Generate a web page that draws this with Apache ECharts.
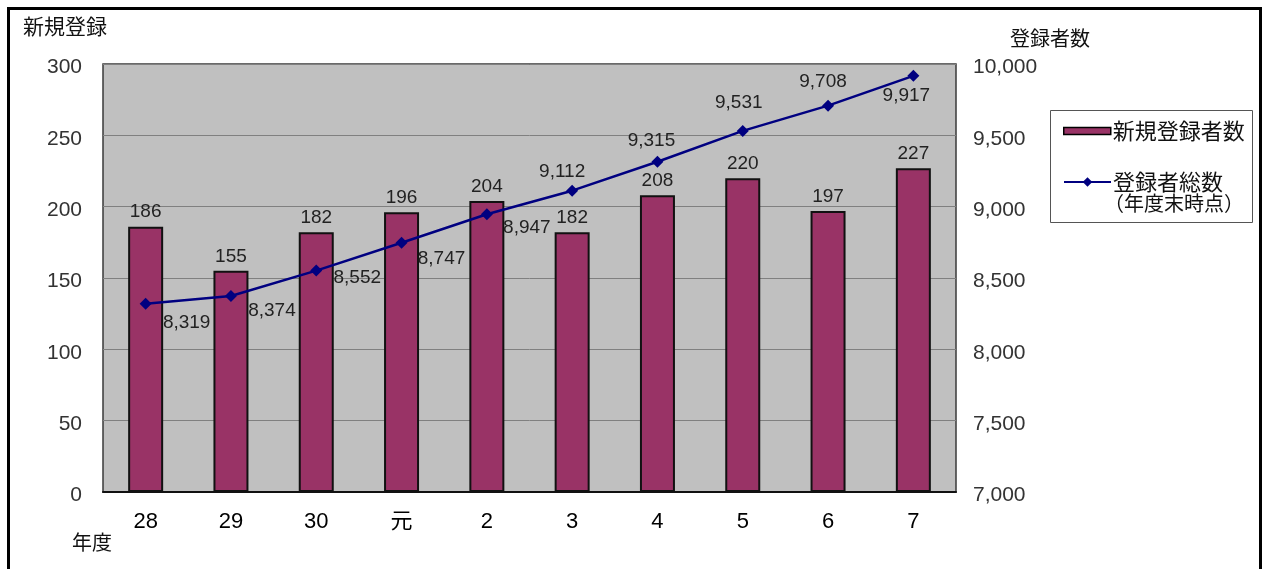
<!DOCTYPE html>
<html>
<head>
<meta charset="utf-8">
<style>
  html, body { margin: 0; padding: 0; background: #ffffff; }
  #chart { width: 1269px; height: 569px; }
</style>
<script src="https://cdn.jsdelivr.net/npm/echarts@6/dist/echarts.min.js"></script>
</head>
<body>
<div id="chart"></div>
<script>
// 年度 (fiscal years)
const years = ['28', '29', '30', '元', '2', '3', '4', '5', '6', '7'];
// 新規登録者数 (new registrations per year)
const newRegistrations = [186, 155, 182, 196, 204, 182, 208, 220, 197, 227];
// 登録者総数 (total registered at fiscal year end)
const totalRegistered = [8319, 8374, 8552, 8747, 8947, 9112, 9315, 9531, 9708, 9917];
// left / right axis ranges
const leftAxis = { min: 0, max: 300, step: 50 };
const rightAxis = { min: 7000, max: 10000, step: 500 };

// where each total's label sits relative to its marker
const totalLabelOffsets = [
  [41, 19], [41, 15], [41, 7], [40, 16], [40, 14],
  [-10, -19], [-6, -21], [-4, -28], [-5, -24], [-7, 20]
];

const NUM_FONT = '"Liberation Sans", Arial, sans-serif';
const JP_FONT = '"Noto Sans CJK JP", sans-serif';

const fmt = v => v.toLocaleString('en-US');

// tick label style, nudged slightly below the gridline
const tickRich = { t: { fontFamily: NUM_FONT, fontSize: 21, color: '#333', padding: [7, 0, 0, 0] } };

const chart = echarts.init(document.getElementById('chart'), null, { renderer: 'canvas' });

chart.setOption({
  animation: false,
  backgroundColor: '#ffffff',
  grid: {
    left: 103, right: 313, top: 64, bottom: 77,
    show: true,
    backgroundColor: '#c0c0c0',
    borderColor: '#3a3a3a',
    borderWidth: 1.5
  },
  legend: [
    {
      data: ['新規登録者数'],
      left: 1058, top: 115,
      itemWidth: 47, itemHeight: 7,
      icon: 'rect',
      textStyle: { fontFamily: JP_FONT, fontSize: 22, color: '#111', padding: [0, 0, 0, -3] },
      itemStyle: { borderColor: '#000', borderWidth: 1.5 }
    },
    {
      data: ['登録者総数'],
      left: 1058, top: 166,
      itemWidth: 47, itemHeight: 12,
      textStyle: { fontFamily: JP_FONT, fontSize: 22, color: '#111', padding: [0, 0, 0, -3] }
    }
  ],
  xAxis: {
    type: 'category',
    data: years,
    axisLine: { lineStyle: { color: '#111', width: 2 } },
    axisTick: { inside: true, length: 5, lineStyle: { color: '#333', width: 1 } },
    axisLabel: { fontFamily: NUM_FONT + ',' + JP_FONT, fontSize: 22, color: '#000', margin: 19 }
  },
  yAxis: [
    {
      type: 'value',
      min: leftAxis.min, max: leftAxis.max, interval: leftAxis.step,
      axisLine: { show: false },
      axisTick: { show: false },
      splitLine: { lineStyle: { color: '#808080', width: 1 } },
      axisLabel: { margin: 21, formatter: v => '{t|' + v + '}', rich: tickRich }
    },
    {
      type: 'value',
      position: 'right',
      min: rightAxis.min, max: rightAxis.max, interval: rightAxis.step,
      axisLine: { show: false },
      axisTick: { show: false },
      splitLine: { show: false },
      axisLabel: { margin: 17, formatter: v => '{t|' + fmt(v) + '}', rich: tickRich }
    }
  ],
  series: [
    {
      name: '新規登録者数',
      type: 'bar',
      data: newRegistrations,
      barWidth: 35,
      z: 2,
      itemStyle: { color: '#993366', borderColor: '#111', borderWidth: 2 },
      label: {
        show: true, position: 'top', distance: 5,
        fontFamily: NUM_FONT, fontSize: 19, color: '#222'
      }
    },
    {
      name: '登録者総数',
      type: 'line',
      yAxisIndex: 1,
      z: 3,
      data: totalRegistered.map((v, i) => ({
        value: v,
        label: { offset: totalLabelOffsets[i] }
      })),
      symbol: 'diamond',
      symbolSize: 12,
      lineStyle: { color: '#000080', width: 2.5 },
      itemStyle: { color: '#000080' },
      label: {
        show: true, position: 'inside',
        fontFamily: NUM_FONT, fontSize: 19, color: '#222',
        formatter: p => fmt(p.value)
      }
    }
  ],
  graphic: [
    // outer frame
    { type: 'rect', silent: true, z: 100,
      shape: { x: 8.5, y: 8.5, width: 1252, height: 600 },
      style: { fill: null, stroke: '#000', lineWidth: 3 } },
    // legend box
    { type: 'rect', silent: true, z: 0,
      shape: { x: 1050.5, y: 110.5, width: 202, height: 112 },
      style: { fill: '#fff', stroke: '#555', lineWidth: 1 } },
    { type: 'text', silent: true, z: 10, left: 1104, top: 193,
      style: { text: '（年度末時点）', fontFamily: JP_FONT, fontSize: 20, fill: '#111' } },
    // axis titles
    { type: 'text', silent: true, left: 23, top: 16,
      style: { text: '新規登録', fontFamily: JP_FONT, fontSize: 21, fill: '#111' } },
    { type: 'text', silent: true, left: 1010, top: 28,
      style: { text: '登録者数', fontFamily: JP_FONT, fontSize: 20, fill: '#111' } },
    { type: 'text', silent: true, left: 72, top: 532,
      style: { text: '年度', fontFamily: JP_FONT, fontSize: 20, fill: '#111' } }
  ]
});
</script>
</body>
</html>
